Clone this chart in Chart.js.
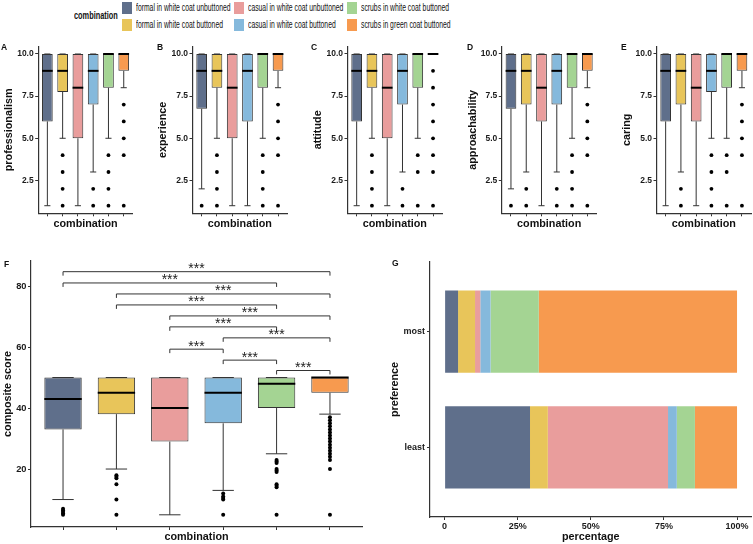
<!DOCTYPE html>
<html><head><meta charset="utf-8">
<script src="https://cdn.jsdelivr.net/npm/chart.js@4.4.1/dist/chart.umd.min.js"></script>
<style>
html,body{margin:0;padding:0;background:#fff;}
body{width:753px;height:544px;position:relative;overflow:hidden;font-family:'Liberation Sans',Arial,sans-serif;}
canvas{position:absolute;}
.t{position:absolute;white-space:nowrap;color:#111;}
.letter{font-weight:bold;font-size:8.5px;line-height:8.5px;}
.sw{position:absolute;width:10px;height:12px;}
.lg{font-size:10px;line-height:10px;transform:scaleX(0.68);transform-origin:0 50%;color:#111;}
.lgt{font-size:11.5px;line-height:11.5px;font-weight:bold;transform:scaleX(0.64);transform-origin:0 50%;color:#111;}
</style></head><body>
<script>
// ---------- data ----------
const combinations = ['formal in white coat unbuttoned','formal in white coat buttoned','casual in white coat unbuttoned','casual in white coat buttoned','scrubs in white coat buttoned','scrubs in green coat buttoned'];
const comboColors = ['#5F6F8B','#E8C55A','#E99D9C','#85B9DC','#A4D493','#F79A4F'];
const legendTitle = 'combination';
const panelLetters = ['A','B','C','D','E','F','G'];

// five-number rows: [lower whisker, Q1, median, Q3, upper whisker]
const professionalismStats = [[1,6,9,10,10],[5,7.75,9,10,10],[1,5,8,10,10],[3,7,9,10,10],[5,8,10,10,10],[8,9,10,10,10]];
const professionalismOutliers = [[],[4,3,2,1],[],[2,1],[4,3,2,1],[7,6,5,4,1]];
const experienceStats = [[2,6.75,9,10,10],[5,8,9,10,10],[1,5,8,10,10],[1,6,9,10,10],[5,8,10,10,10],[8,9,10,10,10]];
const experienceOutliers = [[1],[4,3,2,1],[],[],[4,3,2,1],[7,6,5,4,1]];
const attitudeStats = [[1,6,9,10,10],[5,8,9,10,10],[1,5,8,10,10],[3,7,9,10,10],[5,8,10,10,10],[10,10,10,10,10]];
const attitudeOutliers = [[],[4,3,2,1],[],[2,1],[4,3,1],[9,8,7,6,5,4,3,1]];
const approachabilityStats = [[2,6.75,9,10,10],[3,7,9,10,10],[1,6,8,10,10],[3,7,9,10,10],[5,8,10,10,10],[8,9,10,10,10]];
const approachabilityOutliers = [[1],[2,1],[],[2,1],[4,3,2,1],[7,6,5,4,1]];
const caringStats = [[1,6,9,10,10],[3,7,9,10,10],[1,6,8,10,10],[5,7.75,9,10,10],[5,8,10,10,10],[8,9,10,10,10]];
const caringOutliers = [[],[2,1],[],[4,3,2,1],[4,3,1],[7,6,5,4,1]];
const scoreTickValues = [2.5,5,7.5,10];
const scoreTickLabels = ['2.5','5.0','7.5','10.0'];

const compositeStats = [[10,33,43,50,50],[20,38,45,50,50],[5,29,40,50,50],[13,35,45,50,50],[25,40,48,50,50],[38,45,50,50,50]];
const compositeOutliers = [[7,6.5,6,5.5,5],[18,17.5,17,15,10,5],[],[12,11,10.5,10,5],[23,22.5,22,20,19.5,19,15,14.5,14,5],[37,36,35,34,33,32,31,30,29,28,27,26,25,24,23,20,5]];
const compositeTickValues = [20,40,60,80];
const compositeTickLabels = ['20','40','60','80'];
const sigPairs = [[1,6],[1,5],[2,6],[2,5],[3,6],[3,5],[4,6],[3,4],[4,5],[5,6]];
const sigLevels = [84.7,81.0,77.4,73.8,70.2,66.6,63.0,59.3,55.7,52.3];
const sigLabels = ['***','***','***','***','***','***','***','***','***','***'];

const preferenceLabels = ['most','least'];
const mostPercent = [4.6,5.8,1.8,3.5,16.5,67.8];
const leastPercent = [29.2,6.1,41.1,3.0,6.2,14.4];
const percentTickValues = [0,25,50,75,100];
const percentTickLabels = ['0','25%','50%','75%','100%'];

// ---------- helpers ----------
const FONT = "'Liberation Sans', Arial, sans-serif";
Chart.defaults.font.family = FONT;
Chart.defaults.color = '#1a1a1a';
Chart.defaults.animation = false;
const AX = '#333';

function addCanvas(left, top, w, h) {
  const c = document.createElement('canvas');
  c.width = w; c.height = h;
  c.style.left = left + 'px'; c.style.top = top + 'px';
  c.style.width = w + 'px'; c.style.height = h + 'px';
  document.body.appendChild(c);
  return c;
}
function addText(cls, text, left, top) {
  const d = document.createElement('div');
  d.className = 't ' + cls; d.textContent = text;
  d.style.left = left + 'px'; d.style.top = top + 'px';
  document.body.appendChild(d);
  return d;
}

const boxPlugin = {
  id: 'boxExtras',
  beforeDatasetsDraw(chart, args, opts) {
    const {ctx} = chart, xs = chart.scales.x, ys = chart.scales.y;
    const bars = chart.getDatasetMeta(0).data;
    ctx.save(); ctx.strokeStyle = AX; ctx.lineWidth = 1;
    opts.stats.forEach((s, i) => {
      const x = xs.getPixelForValue(i + 1);
      const hw = bars[i].width / 2 * (0.4 / 0.7);
      ctx.beginPath();
      ctx.moveTo(x, ys.getPixelForValue(s[3])); ctx.lineTo(x, ys.getPixelForValue(s[4]));
      ctx.moveTo(x, ys.getPixelForValue(s[1])); ctx.lineTo(x, ys.getPixelForValue(s[0]));
      ctx.moveTo(x - hw, ys.getPixelForValue(s[4])); ctx.lineTo(x + hw, ys.getPixelForValue(s[4]));
      ctx.moveTo(x - hw, ys.getPixelForValue(s[0])); ctx.lineTo(x + hw, ys.getPixelForValue(s[0]));
      ctx.stroke();
    });
    ctx.restore();
  },
  afterDatasetDraw(chart, args, opts) {
    if (args.index !== 0) return;
    const {ctx} = chart, xs = chart.scales.x, ys = chart.scales.y;
    const bars = chart.getDatasetMeta(0).data;
    ctx.save(); ctx.strokeStyle = '#000'; ctx.lineWidth = 2;
    opts.stats.forEach((s, i) => {
      const x = xs.getPixelForValue(i + 1), hw = bars[i].width / 2;
      const y = ys.getPixelForValue(s[2]);
      ctx.beginPath(); ctx.moveTo(x - hw, y); ctx.lineTo(x + hw, y); ctx.stroke();
    });
    ctx.restore();
  }
};

const sigPlugin = {
  id: 'sigBrackets',
  afterDatasetsDraw(chart, args, opts) {
    if (!opts.enabled) return;
    const {ctx} = chart, xs = chart.scales.x, ys = chart.scales.y;
    ctx.save();
    ctx.strokeStyle = AX; ctx.lineWidth = 1; ctx.fillStyle = '#222';
    ctx.font = '14px ' + FONT; ctx.textAlign = 'center'; ctx.textBaseline = 'alphabetic';
    sigPairs.forEach((p, k) => {
      const x1 = xs.getPixelForValue(p[0]), x2 = xs.getPixelForValue(p[1]);
      const yl = ys.getPixelForValue(sigLevels[k]), yt = ys.getPixelForValue(sigLevels[k] - 1.3);
      ctx.beginPath();
      ctx.moveTo(x1, yt); ctx.lineTo(x1, yl); ctx.lineTo(x2, yl); ctx.lineTo(x2, yt);
      ctx.stroke();
      ctx.fillText(sigLabels[k], (x1 + x2) / 2, yl + 1.5);
    });
    ctx.restore();
  }
};

function boxChart(cfg) {
  const c = addCanvas(cfg.left, cfg.top, cfg.w, cfg.h);
  const boxes = cfg.stats.map((s, i) => ({x: i + 1, y: [s[1], s[3]]}));
  const dots = [];
  cfg.outliers.forEach((arr, i) => arr.forEach(v => dots.push({x: i + 1, y: v})));
  return new Chart(c, {
    type: 'bar',
    data: {datasets: [
      {type: 'bar', data: boxes, backgroundColor: comboColors, borderColor: AX, borderWidth: 1,
       borderSkipped: false, barPercentage: 0.7, categoryPercentage: 1.0},
      {type: 'scatter', data: dots, pointRadius: cfg.dotR, pointBackgroundColor: '#000',
       pointBorderWidth: 0, pointHoverRadius: cfg.dotR}
    ]},
    options: {
      responsive: false, animation: false, events: [],
      layout: {padding: {left: 0, right: cfg.pr, top: cfg.pt, bottom: 0}},
      plugins: {legend: {display: false}, tooltip: {enabled: false},
        boxExtras: {stats: cfg.stats}, sigBrackets: {enabled: !!cfg.sig}},
      scales: {
        x: {type: 'linear', min: 0.4, max: 6.6, offset: false,
          ticks: {stepSize: 1, autoSkip: false, includeBounds: false, callback: () => '', padding: 0},
          grid: {display: true, drawOnChartArea: false, drawTicks: true, tickLength: 3, color: AX, offset: false},
          border: {display: true, color: AX, width: 1.2},
          title: {display: true, text: 'combination', color: '#111', font: {size: 10.8, weight: 'bold'},
            padding: {top: 0, bottom: cfg.xTitlePad}},
          afterFit: s => { s.height = cfg.xh; }},
        y: {type: 'linear', min: cfg.yMin, max: cfg.yMax,
          ticks: {stepSize: cfg.yStep, includeBounds: false, color: '#1a1a1a', padding: 1.5,
            font: {size: cfg.tickSize, weight: 'bold'},
            callback: v => { const k = cfg.tickValues.indexOf(v); return k >= 0 ? cfg.tickLabels[k] : ''; }},
          grid: {display: true, drawOnChartArea: false, drawTicks: true, tickLength: 3, color: AX},
          border: {display: true, color: AX, width: 1.2},
          title: {display: true, text: cfg.yTitle, color: '#111', font: {size: 10.8, weight: 'bold'},
            padding: {top: cfg.yTitlePad, bottom: 0}},
          afterFit: s => { s.width = cfg.yw; }}
      }
    },
    plugins: [boxPlugin, sigPlugin]
  });
}

// ---------- legend ----------
addText('lgt', legendTitle, 74, 10);
const lgCols = [122, 234, 347], lgRows = [2, 19];
combinations.forEach((name, i) => {
  const col = Math.floor(i / 2), row = i % 2;
  const sw = document.createElement('div');
  sw.className = 'sw'; sw.style.background = comboColors[i];
  sw.style.left = lgCols[col] + 'px'; sw.style.top = lgRows[row] + 'px';
  document.body.appendChild(sw);
  addText('lg', name, lgCols[col] + 14, lgRows[row] + 1);
});

// ---------- small panels ----------
const smallPanels = [
  {left: 0, yw: 38.2, stats: professionalismStats, outliers: professionalismOutliers, yTitle: 'professionalism'},
  {left: 154, yw: 38.5, stats: experienceStats, outliers: experienceOutliers, yTitle: 'experience'},
  {left: 309, yw: 38.5, stats: attitudeStats, outliers: attitudeOutliers, yTitle: 'attitude'},
  {left: 464, yw: 37.8, stats: approachabilityStats, outliers: approachabilityOutliers, yTitle: 'approachability'},
  {left: 618, yw: 38.5, stats: caringStats, outliers: caringOutliers, yTitle: 'caring'}
];
const letterPos = [[1,43],[157,43],[311,43],[467,43],[621,43],[4,260],[392,259]];
smallPanels.forEach((p, k) => {
  const w = k === 4 ? 135 : 136;
  boxChart({left: p.left, top: 38, w: w, h: 197, yw: p.yw, pr: w - p.yw - 94.7, pt: 8.4, xh: 21.7,
    xTitlePad: 4.1, yTitlePad: 2.6, stats: p.stats, outliers: p.outliers, yTitle: p.yTitle,
    yMin: 0.55, yMax: 10.45, yStep: 2.5, tickValues: scoreTickValues, tickLabels: scoreTickLabels,
    tickSize: 8.5, dotR: 1.9});
});

// ---------- panel F ----------
boxChart({left: 0, top: 250, w: 375, h: 294, yw: 31, pr: 13, pt: 11, xh: 17, xTitlePad: 0.7, yTitlePad: 1.4,
  stats: compositeStats, outliers: compositeOutliers, yTitle: 'composite score',
  yMin: 1, yMax: 88.2, yStep: 20, tickValues: compositeTickValues, tickLabels: compositeTickLabels,
  tickSize: 9.3, dotR: 2, sig: true});

// ---------- panel G ----------
(function () {
  const c = addCanvas(380, 250, 373, 294);
  new Chart(c, {
    type: 'bar',
    data: {datasets: combinations.map((name, i) => ({
      label: name, backgroundColor: comboColors[i], borderWidth: 0,
      barPercentage: 0.71, categoryPercentage: 1.0,
      data: [{x: mostPercent[i], y: 1}, {x: leastPercent[i], y: 2}]
    }))},
    options: {
      indexAxis: 'y', responsive: false, animation: false, events: [],
      layout: {padding: {left: 0, right: 1.35, top: 12, bottom: 0}},
      plugins: {legend: {display: false}, tooltip: {enabled: false}},
      scales: {
        x: {type: 'linear', stacked: true, min: -5, max: 105, offset: false,
          ticks: {stepSize: 25, includeBounds: false, autoSkip: false, padding: 1, color: '#1a1a1a',
            font: {size: 9, weight: 'bold'},
            callback: v => { const k = percentTickValues.indexOf(v); return k >= 0 ? percentTickLabels[k] : ''; }},
          grid: {display: true, drawOnChartArea: false, drawTicks: true, tickLength: 3, color: AX},
          border: {display: true, color: AX, width: 1.2},
          title: {display: true, text: 'percentage', color: '#111', font: {size: 10.8, weight: 'bold'},
            padding: {top: 0, bottom: 0.4}},
          afterFit: s => { s.height = 27; }},
        y: {type: 'linear', stacked: true, min: 0.4, max: 2.6, reverse: true, offset: false,
          ticks: {stepSize: 1, includeBounds: false, autoSkip: false, padding: 2, color: '#1a1a1a',
            font: {size: 9, weight: 'bold'},
            callback: v => preferenceLabels[v - 1] || ''},
          grid: {display: true, drawOnChartArea: false, drawTicks: true, tickLength: 3, color: AX, offset: false},
          border: {display: true, color: AX, width: 1.2},
          title: {display: true, text: 'preference', color: '#111', font: {size: 10.8, weight: 'bold'},
            padding: {top: 8.4, bottom: 0}},
          afterFit: s => { s.width = 50; }}
      }
    }
  });
})();

// ---------- panel letters ----------
panelLetters.forEach((L, i) => addText('letter', L, letterPos[i][0], letterPos[i][1]));
</script>
</body></html>
